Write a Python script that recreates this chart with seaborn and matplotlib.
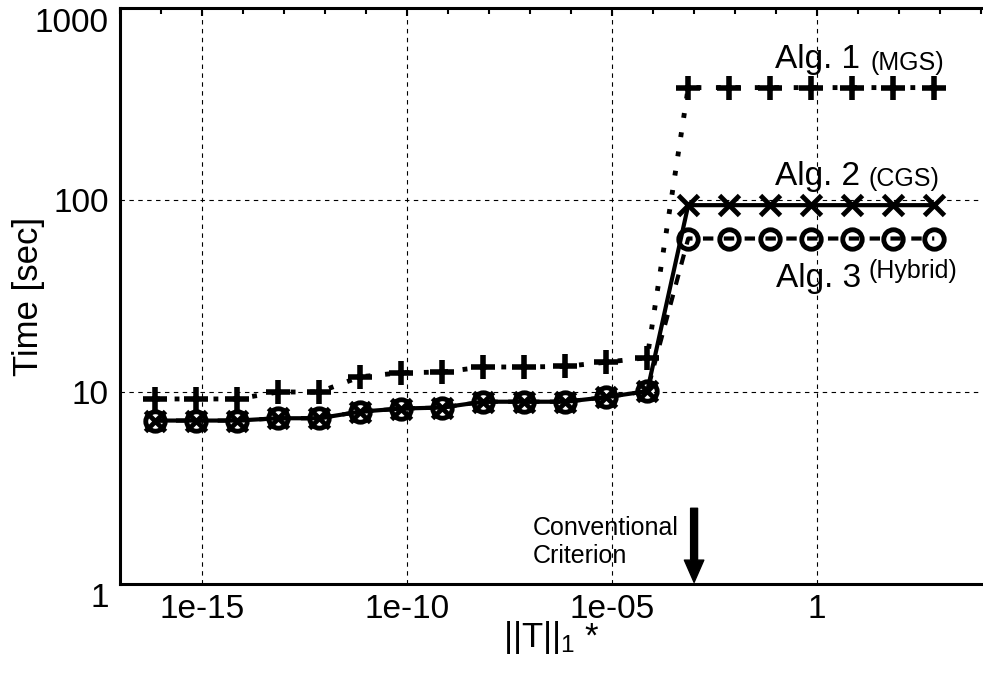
import numpy as np
import matplotlib
matplotlib.use("Agg")
import matplotlib.pyplot as plt
from matplotlib.ticker import LogLocator, NullFormatter
from matplotlib.transforms import ScaledTranslation
import seaborn as sns

# ---- data ----
x_vals = [7.2e-17, 7.2e-16, 7.2e-15, 7.2e-14, 7.2e-13, 7.2e-12, 7.2e-11,
          7.2e-10, 7.2e-09, 7.2e-08, 7.2e-07, 7.2e-06, 7.2e-05,
          7.2e-04, 7.2e-03, 7.2e-02, 7.2e-01, 7.2e+00, 7.2e+01, 7.2e+02]
alg1_mgs = [9.2, 9.2, 9.2, 10.0, 10.0, 12.0, 12.6, 12.7, 13.5, 13.5, 13.6, 14.3, 15.1,
            385, 385, 385, 385, 385, 385, 385]
alg2_cgs = [7.1, 7.1, 7.1, 7.3, 7.3, 7.9, 8.2, 8.3, 8.9, 8.9, 8.9, 9.4, 10.1,
            94, 94, 94, 94, 94, 94, 94]
alg3_hybrid = [7.1, 7.1, 7.1, 7.3, 7.3, 7.9, 8.2, 8.3, 8.9, 8.9, 8.9, 9.4, 10.1,
               63, 63, 63, 63, 63, 63, 63]
xtick_vals = [1e-15, 1e-10, 1e-05, 1]
xtick_labels = ["1e-15", "1e-10", "1e-05", "1"]
ytick_vals = [1, 10, 100, 1000]
ytick_labels = ["1", "10", "100", "1000"]
criterion_x = 1e-3

sns.set_theme(style="white")
plt.rcParams["font.family"] = ["Liberation Sans", "DejaVu Sans"]
plt.rcParams["mathtext.fontset"] = "custom"
plt.rcParams["mathtext.rm"] = "Liberation Sans"
plt.rcParams["mathtext.it"] = "Liberation Sans:italic"
for key in ["text.color", "axes.labelcolor", "xtick.color", "ytick.color", "axes.edgecolor"]:
    plt.rcParams[key] = "black"

W, H = 983, 673
fig = plt.figure(figsize=(W / 100, H / 100), dpi=100)
ax = fig.add_axes([120 / W, 1 - 584 / H, (982 - 120) / W, (584 - 8) / H])
ax.set_xscale("log")
ax.set_yscale("log")

common = dict(ax=ax, color="black", errorbar=None, markeredgecolor="black")
sns.lineplot(x=x_vals, y=alg1_mgs, linestyle=(0, (1, 3)), linewidth=3.5,
             marker="+", markersize=17, markeredgewidth=4, **common)
sns.lineplot(x=x_vals, y=alg3_hybrid, linestyle=(0, (2.5, 2.5)), linewidth=3,
             marker="o", markersize=14, markeredgewidth=3.5, fillstyle="none", **common)
sns.lineplot(x=x_vals, y=alg2_cgs, linestyle="-", linewidth=3,
             marker="x", markersize=14, markeredgewidth=3.5, **common)

ax.set_xlim(1e-17, 1.05e4)
ax.set_ylim(1, 1000)

ax.set_xticks(xtick_vals)
ax.set_xticklabels(xtick_labels)
ax.xaxis.set_minor_locator(LogLocator(base=10, subs=(1.0,), numticks=100))
ax.xaxis.set_minor_formatter(NullFormatter())
ax.set_yticks(ytick_vals)
ax.set_yticklabels(ytick_labels)
ax.yaxis.set_minor_locator(LogLocator(base=10, subs=np.arange(2, 10), numticks=100))
ax.yaxis.set_minor_formatter(NullFormatter())

ax.tick_params(which="both", direction="in", top=True, right=False, color="black")
ax.tick_params(which="major", length=6, width=1.5, labelsize=24)
ax.tick_params(which="minor", length=4, width=1.5)
ax.tick_params(axis="x", which="major", pad=7)
ax.tick_params(axis="y", which="major", pad=8)

# the end labels of the y axis sit a little inside, as in the reference
yticks = ax.yaxis.get_major_ticks()
for idx, dy in [(0, -11), (3, -12)]:
    lab = yticks[idx].label1
    lab.set_transform(lab.get_transform() + ScaledTranslation(0, dy / 100, fig.dpi_scale_trans))

for side in ["left", "bottom", "top"]:
    ax.spines[side].set_visible(True)
    ax.spines[side].set_color("black")
    ax.spines[side].set_linewidth(2.2)
ax.spines["right"].set_visible(False)

ax.grid(True, which="major", color="black", linestyle=(0, (4, 4)), linewidth=0.8)
ax.set_axisbelow(True)

ax.set_ylabel("Time [sec]", fontsize=25)
ax.yaxis.set_label_coords(-0.087, 0.5)
ax.set_xlabel(r"||T||$_\mathregular{1}$ *", fontsize=25)
ax.xaxis.set_label_coords(0.5, -0.06)


def fx(px):
    return px / W


def fy(py):
    return 1 - py / H


fig.text(fx(775), fy(68), "Alg. 1", fontsize=24, va="baseline")
fig.text(fx(870), fy(70), "(MGS)", fontsize=18, va="baseline")
fig.text(fx(775), fy(185), "Alg. 2", fontsize=24, va="baseline")
fig.text(fx(869), fy(186), "(CGS)", fontsize=18, va="baseline")
fig.text(fx(776), fy(287), "Alg. 3", fontsize=24, va="baseline")
fig.text(fx(869), fy(278), "(Hybrid)", fontsize=18, va="baseline")
fig.text(fx(533), fy(535), "Conventional", fontsize=18, va="baseline")
fig.text(fx(533), fy(563), "Criterion", fontsize=18, va="baseline")

ax.annotate("", xy=(criterion_x, 1.02), xytext=(criterion_x, 2.48),
            arrowprops=dict(facecolor="black", edgecolor="black", width=5,
                            headwidth=14, headlength=16, shrink=0),
            annotation_clip=False)

fig.savefig("out.png", dpi=100)
